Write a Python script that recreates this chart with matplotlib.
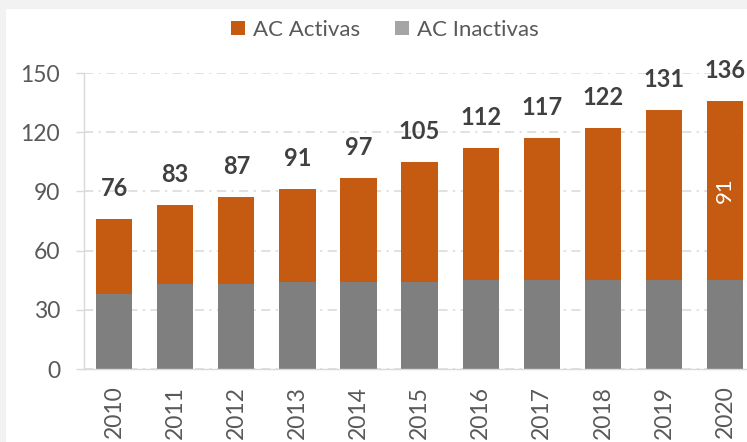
import matplotlib
matplotlib.use('Agg')
import matplotlib.pyplot as plt
from matplotlib.patches import Patch, Rectangle
import numpy as np

# datos
years = ['2010', '2011', '2012', '2013', '2014', '2015', '2016', '2017', '2018', '2019', '2020']
inactivas = [38, 43, 43, 44, 44, 44, 45, 45, 45, 45, 45]
totales = [76, 83, 87, 91, 97, 105, 112, 117, 122, 131, 136]
activas = [t - i for t, i in zip(totales, inactivas)]
yticks = [0, 30, 60, 90, 120, 150]

c_act = '#c55a11'
c_inact = '#7f7f7f'
c_inact_leg = '#a5a5a5'
c_grid = '#d9d9d9'
c_text = '#595959'

plt.rcParams['font.family'] = ['Lato', 'DejaVu Sans']

W, H = 747, 442
fig = plt.figure(figsize=(W / 100, H / 100), dpi=100, facecolor='#f2f2f2')
fig.add_artist(Rectangle((6 / W, 0), 1, 1 - 9 / H, transform=fig.transFigure,
                         facecolor='white', edgecolor='none', zorder=-1))

ax = fig.add_axes([83.5 / W, (H - 369) / H, 672.2 / W, 296 / H])
ax.set_facecolor('none')

x = np.arange(len(years))
ax.bar(x, inactivas, width=0.594, color=c_inact, zorder=2)
ax.bar(x, activas, bottom=inactivas, width=0.594, color=c_act, zorder=2)

# totales encima
for xi, t in zip(x, totales):
    ax.annotate(str(t), (xi, t), xytext=(0, 22), textcoords='offset points',
                ha='center', va='center', fontsize=17, fontweight='bold',
                color='#404040')

# etiqueta del último año
ax.text(x[-1], inactivas[-1] + activas[-1] / 2, str(activas[-1]), rotation=90,
        ha='center', va='center', color='white', fontsize=16)

ax.set_xlim(-0.5, len(years) - 0.5)
ax.set_ylim(0, 150)
ax.set_yticks(yticks)
ax.set_xticks(x)
ax.set_xticklabels(years, rotation=90)

ax.yaxis.grid(True, color=c_grid, linewidth=1.1, linestyle=(0, (6, 3.5, 1.5, 3.5)), zorder=0)
ax.set_axisbelow(True)

for s in ['top', 'right']:
    ax.spines[s].set_visible(False)
ax.spines['left'].set_color(c_grid)
ax.spines['bottom'].set_color(c_grid)
ax.spines['left'].set_linewidth(1.0)
ax.spines['bottom'].set_linewidth(1.0)

ax.tick_params(axis='y', length=5.8, width=1.0, color=c_grid, pad=11,
               labelsize=16.5, labelcolor=c_text)
ax.tick_params(axis='x', length=0, pad=12, labelsize=16.5, labelcolor=c_text)

handles = [Patch(facecolor=c_act, label='AC Activas'),
           Patch(facecolor=c_inact_leg, label='AC Inactivas')]
fig.legend(handles=handles, loc='center', bbox_to_anchor=(385 / W, 1 - 30 / H),
           ncol=2, frameon=False, fontsize=16, labelcolor=c_text,
           handlelength=0.63, handleheight=0.63, handletextpad=0.35,
           columnspacing=1.6)

fig.savefig('out.png', dpi=100, facecolor=fig.get_facecolor())
